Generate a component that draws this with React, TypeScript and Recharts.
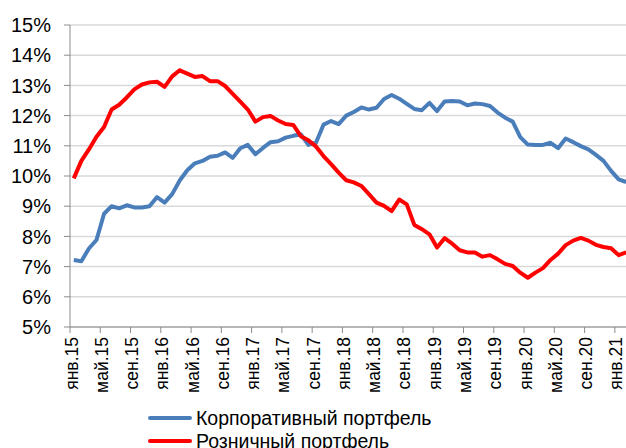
import React from 'react'
import { LineChart, Line, XAxis, YAxis, CartesianGrid } from 'recharts'

const MONTHS = ['янв', 'фев', 'мар', 'апр', 'май', 'июн', 'июл', 'авг', 'сен', 'окт', 'ноя', 'дек']
const YEARS = ['15', '16', '17', '18', '19', '20', '21']

// Корпоративный портфель, янв.15 – фев.21, %
const CORPORATE = [
  7.22, 7.18, 7.6, 7.88, 8.75, 9.0, 8.93, 9.03, 8.96, 8.96, 9.0, 9.3,
  9.12, 9.4, 9.85, 10.19, 10.42, 10.5, 10.64, 10.67, 10.78, 10.6, 10.92, 11.03,
  10.72, 10.93, 11.12, 11.15, 11.27, 11.33, 11.38, 11.03, 11.1, 11.7, 11.82, 11.72,
  12.0, 12.12, 12.27, 12.2, 12.26, 12.55, 12.68, 12.56, 12.39, 12.22, 12.18, 12.42,
  12.15, 12.47, 12.48, 12.47, 12.34, 12.4, 12.38, 12.32, 12.1, 11.93, 11.8, 11.29,
  11.04, 11.03, 11.03, 11.1, 10.92, 11.24, 11.12, 10.99, 10.88, 10.7, 10.5, 10.17,
  9.89, 9.8,
]

// Розничный портфель, янв.15 – фев.21, %
const RETAIL = [
  9.92, 10.5, 10.88, 11.3, 11.62, 12.2, 12.36, 12.6, 12.87, 13.03, 13.1, 13.12,
  12.95, 13.3, 13.5, 13.39, 13.28, 13.31, 13.14, 13.14, 12.98, 12.72, 12.46, 12.2,
  11.8, 11.95, 11.99, 11.84, 11.72, 11.69, 11.32, 11.18, 10.98, 10.66, 10.39, 10.11,
  9.86, 9.79, 9.67, 9.4, 9.12, 9.01, 8.84, 9.22, 9.06, 8.38, 8.24, 8.07,
  7.63, 7.94, 7.76, 7.54, 7.47, 7.47, 7.33, 7.38, 7.24, 7.09, 7.02, 6.8,
  6.63, 6.8, 6.95, 7.22, 7.43, 7.71, 7.86, 7.95, 7.86, 7.72, 7.65, 7.61,
  7.38, 7.47,
]

const Y_TICKS = [5, 6, 7, 8, 9, 10, 11, 12, 13, 14, 15]

const data = CORPORATE.map((c, i) => ({
  m: `${MONTHS[i % 12]}.${YEARS[Math.floor(i / 12)]}`,
  corp: c,
  retail: RETAIL[i],
}))

const FONT = '"Liberation Sans", Arial, sans-serif'
const AXIS = '#8c8c8c'
const PLOT_W = 560
const BAND = PLOT_W / data.length

const MonthTick = (props: any) => {
  const { x, y, payload } = props
  const bx = x - BAND / 2
  const tx = bx + 7.5
  const ty = y + 10
  return (
    <g>
      <line x1={bx} y1={y} x2={bx} y2={y + 6} stroke={AXIS} strokeWidth={1} />
      <text
        x={tx}
        y={ty}
        transform={`rotate(-90 ${tx} ${ty})`}
        textAnchor="end"
        fontSize={17.5}
        fontFamily={FONT}
        fill="#000"
      >
        {payload.value}
      </text>
    </g>
  )
}

const LegendRow = ({ color, label, top }: { color: string; label: string; top: number }) => (
  <div style={{ position: 'absolute', left: 148, top, display: 'flex', alignItems: 'center', height: 24 }}>
    <div style={{ width: 44, height: 4, borderRadius: 2, background: color }} />
    <span style={{ marginLeft: 4, fontSize: 19.5, fontFamily: FONT, color: '#000', whiteSpace: 'nowrap' }}>{label}</span>
  </div>
)

export default function App() {
  return (
    <div style={{ position: 'absolute', left: 0, top: 0, width: 626, height: 448, overflow: 'hidden', background: '#fff' }}>
      <LineChart
        width={634}
        height={460}
        data={data}
        margin={{ top: 25, right: 4, left: 0, bottom: 0 }}
      >
        <CartesianGrid vertical={false} stroke="#d9d9d9" strokeWidth={1.5} />
        <XAxis
          dataKey="m"
          interval={3}
          height={133}
          padding={{ left: BAND / 2, right: BAND / 2 }}
          axisLine={{ stroke: AXIS, strokeWidth: 1 }}
          tickLine={false}
          tickSize={0}
          tickMargin={0}
          tick={<MonthTick />}
        />
        <YAxis
          width={70}
          domain={[5, 15]}
          ticks={Y_TICKS}
          interval={0}
          tickFormatter={(v: number) => `${v}%`}
          axisLine={{ stroke: AXIS, strokeWidth: 1 }}
          tickLine={{ stroke: AXIS, strokeWidth: 1 }}
          tickSize={6}
          tickMargin={13}
          tick={{ fontSize: 20, fontFamily: FONT, fill: '#000' }}
        />
        <Line
          type="linear"
          dataKey="corp"
          stroke="#4a7ebb"
          strokeWidth={4}
          strokeLinejoin="round"
          dot={false}
          isAnimationActive={false}
        />
        <Line
          type="linear"
          dataKey="retail"
          stroke="#ff0000"
          strokeWidth={4}
          strokeLinejoin="round"
          dot={false}
          isAnimationActive={false}
        />
      </LineChart>
      <LegendRow color="#4a7ebb" label="Корпоративный портфель" top={406} />
      <LegendRow color="#ff0000" label="Розничный портфель" top={429} />
    </div>
  )
}
